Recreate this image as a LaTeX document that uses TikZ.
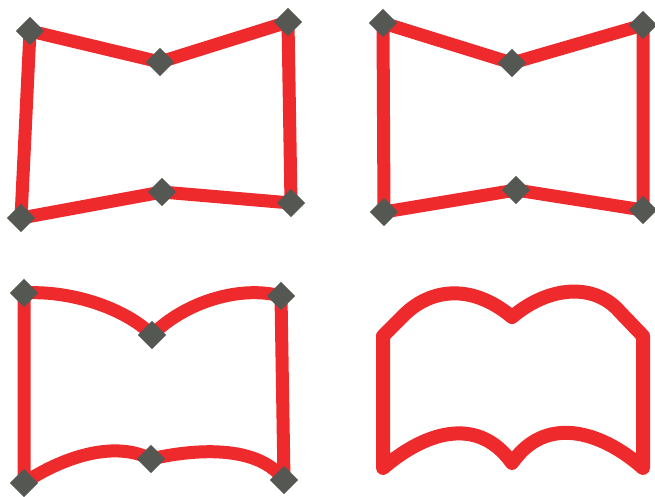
\documentclass[tikz,border=0pt]{standalone}
\definecolor{bred}{HTML}{EE2A2D}
\definecolor{dgray}{HTML}{555752}
\tikzset{
  edge/.style={draw=bred,line width=13pt,line join=round,line cap=round},
  edgethick/.style={draw=bred,line width=14pt,line join=round,line cap=round},
  handle/.style={fill=dgray,draw=none,minimum size=20pt,inner sep=0pt,rotate=45,rectangle}
}
\begin{document}
\begin{tikzpicture}[x=1pt,y=-1pt]
\useasboundingbox (0,0) rectangle (655,496);
% ---- panel 1
\coordinate (a1) at (30,31);
\coordinate (a2) at (160,62);
\coordinate (a3) at (288,22);
\coordinate (a4) at (291,203);
\coordinate (a5) at (162,192);
\coordinate (a6) at (21,218);
\draw[edge] (a1) -- (a2) -- (a3) -- (a4) -- (a5) -- (a6) -- cycle;
\foreach \p in {a1,a2,a3,a4,a5,a6} \node[handle] (n\p) at (\p) {};
% ---- panel 2
\coordinate (b1) at (383,23);
\coordinate (b2) at (512,63);
\coordinate (b3) at (643,25);
\coordinate (b4) at (643,210);
\coordinate (b5) at (516,190);
\coordinate (b6) at (384,212);
\draw[edge] (b1) -- (b2) -- (b3) -- (b4) -- (b5) -- (b6) -- cycle;
\foreach \p in {b1,b2,b3,b4,b5,b6} \node[handle] (n\p) at (\p) {};
% ---- panel 3
\coordinate (c1) at (24,293);
\coordinate (c2) at (152,335);
\coordinate (c3) at (281,296);
\coordinate (c4) at (284,480);
\coordinate (c5) at (151,459);
\coordinate (c6) at (24,483);
\draw[edge] (c1) .. controls (70,290) and (125,308) .. (c2)
  .. controls (185,302) and (240,285) .. (c3) -- (c4)
  .. controls (255,440) and (180,452) .. (c5)
  .. controls (110,438) and (55,462) .. (c6) -- cycle;
\foreach \p in {c1,c2,c3,c4,c5,c6} \node[handle] (n\p) at (\p) {};
% ---- panel 4
\coordinate (d1) at (383,336);
\coordinate (d2) at (405,314);
\coordinate (d3) at (512,317);
\coordinate (d4) at (620,312);
\coordinate (d5) at (643,336);
\coordinate (d6) at (643,468);
\coordinate (d7) at (512,463);
\coordinate (d8) at (383,468);
\draw[edgethick] (d1) -- (d2) .. controls (430,290) and (470,282) .. (d3)
  .. controls (550,285) and (595,283) .. (d4) -- (d5) -- (d6)
  .. controls (600,430) and (545,415) .. (d7)
  .. controls (480,418) and (430,428) .. (d8) -- cycle;
\end{tikzpicture}
\end{document}
